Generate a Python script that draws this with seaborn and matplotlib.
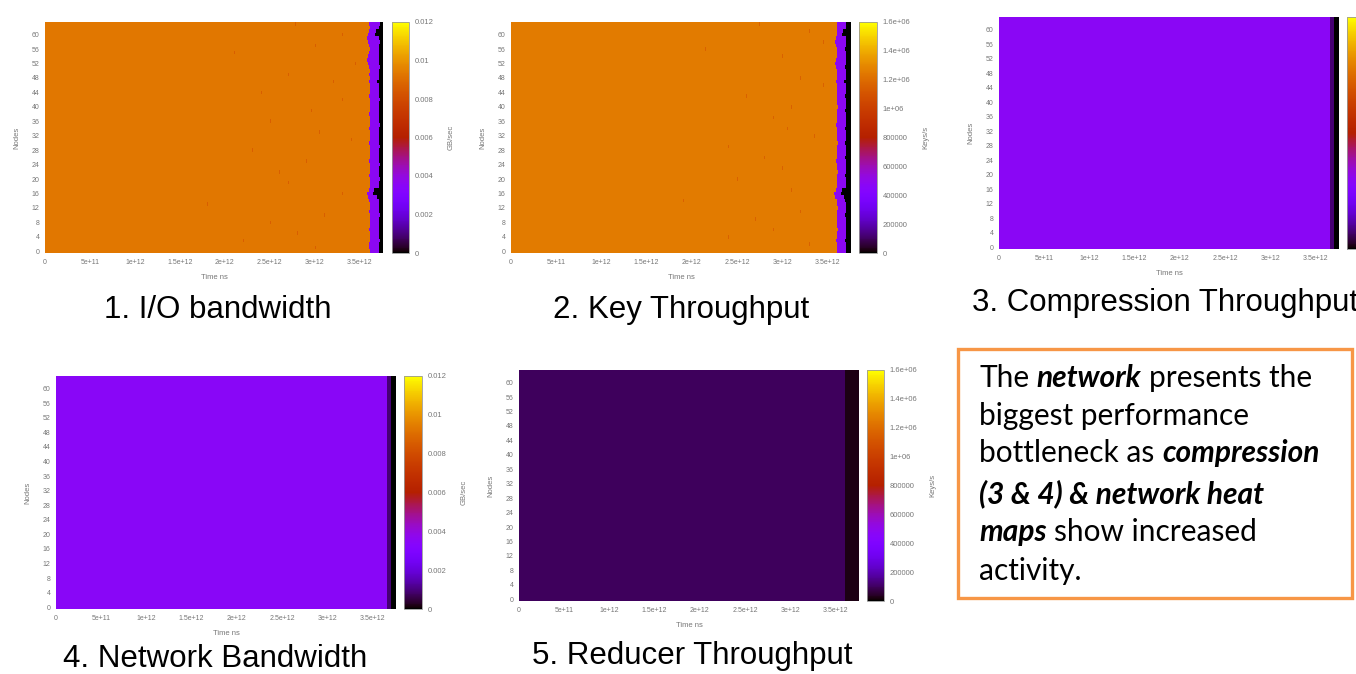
import numpy as np
import pandas as pd
import matplotlib
matplotlib.use("Agg")
import matplotlib.pyplot as plt
import seaborn as sns
from matplotlib.patches import Rectangle

sns.set_theme(style="white")
plt.rcParams['font.family'] = ['Liberation Sans', 'DejaVu Sans']

# ----------------------------------------------------------------------
# data (gnuplot heat maps, 64 nodes x time)
# ----------------------------------------------------------------------
n_nodes = 64
bin_ns = 1e10            # one heatmap column = 1e10 ns
n_bins = 376             # runs end at ~3.76e12 ns

x_tick_ns = [0, 5e11, 1e12, 1.5e12, 2e12, 2.5e12, 3e12, 3.5e12]
x_tick_labels = ["0", "5e+11", "1e+12", "1.5e+12", "2e+12", "2.5e+12", "3e+12", "3.5e+12"]
y_ticks = list(range(0, 61, 4))

gb_ticks = [0, 0.002, 0.004, 0.006, 0.008, 0.01, 0.012]
gb_tick_labels = ["0", "0.002", "0.004", "0.006", "0.008", "0.01", "0.012"]
keys_ticks = [0, 2e5, 4e5, 6e5, 8e5, 1e6, 1.2e6, 1.4e6, 1.6e6]
keys_tick_labels = ["0", "200000", "400000", "600000", "800000", "1e+06", "1.2e+06", "1.4e+06", "1.6e+06"]

# 1. I/O bandwidth (GB/sec)
io_steady = 0.0093
io_tail = 0.0036
io_speck = 0.0086
io_purple_from = [361, 360, 360, 361, 362, 361, 360, 361, 361, 362, 361, 360, 361, 362, 360, 359,
                  358, 360, 361, 362, 361, 360, 361, 362, 361, 360, 361, 361, 362, 361, 360, 361,
                  361, 362, 360, 361, 362, 361, 360, 361, 361, 362, 361, 360, 361, 362, 361, 360,
                  361, 360, 361, 360, 359, 358, 359, 360, 361, 360, 359, 358, 359, 360, 361, 360]
io_black_from = [372, 371, 372, 373, 372, 371, 372, 372, 371, 372, 373, 372, 371, 372, 371, 369,
                 365, 366, 371, 372, 373, 372, 371, 372, 373, 372, 371, 372, 372, 373, 372, 371,
                 372, 371, 372, 373, 372, 371, 372, 372, 371, 372, 373, 372, 371, 372, 372, 369,
                 372, 371, 372, 373, 372, 371, 372, 372, 371, 372, 373, 372, 367, 368, 372, 373]
io_speck_nodes = [63, 60, 57, 55, 52, 49, 47, 44, 42, 39, 36, 33, 31, 28, 25, 22, 19, 16, 13, 10, 8, 5, 3, 1]
io_speck_cols = [278, 330, 300, 210, 345, 270, 320, 240, 330, 296, 250, 305, 340, 230, 290, 260,
                 270, 330, 180, 310, 250, 280, 220, 300]

# 2. Key throughput (Keys/s)
key_steady = 1.25e6
key_tail = 4.8e5
key_speck = 1.16e6
key_purple_from = [360, 361, 360, 359, 360, 361, 362, 361, 360, 361, 360, 361, 362, 361, 360, 358,
                   357, 359, 360, 361, 360, 361, 362, 361, 360, 359, 360, 361, 360, 361, 362, 361,
                   360, 361, 360, 359, 360, 361, 360, 361, 362, 361, 360, 361, 360, 361, 360, 359,
                   360, 361, 360, 359, 358, 359, 360, 361, 360, 359, 358, 359, 360, 361, 360, 361]
key_black_from = [370, 371, 370, 369, 370, 371, 370, 370, 371, 370, 369, 370, 371, 370, 369, 368,
                  365, 366, 370, 371, 370, 369, 370, 371, 370, 370, 369, 370, 371, 370, 369, 370,
                  371, 370, 369, 370, 371, 370, 370, 369, 370, 371, 370, 369, 370, 371, 370, 368,
                  370, 371, 370, 369, 370, 371, 370, 370, 369, 370, 371, 370, 366, 367, 370, 371]
key_speck_nodes = [63, 61, 58, 56, 54, 51, 48, 46, 43, 40, 37, 34, 32, 29, 26, 23, 20, 17, 14, 11, 9, 6, 4, 2]
key_speck_cols = [274, 330, 345, 215, 300, 255, 320, 345, 260, 310, 290, 305, 335, 240, 280, 300,
                  250, 310, 190, 320, 270, 290, 240, 330]

# 3. Compression throughput, 4. Network bandwidth, 5. Reducer throughput
comp_steady = 4.7e5
comp_tail = 1.2e5
comp_dim_from = 366
comp_dark_from = 370
net_steady = 0.0035
net_tail = 0.0009
net_dim_from = 366
net_dark_from = 370
red_steady = 9.6e4
red_tail = 2.0e4
red_dark_from = 360


def build(steady, purple_from, black_from, tail=0.0, specks=((), ()), speck_val=None):
    purple_from = np.broadcast_to(purple_from, n_nodes)
    black_from = np.broadcast_to(black_from, n_nodes)
    m = np.zeros((n_nodes, n_bins))
    for node in range(n_nodes):
        m[node, :purple_from[node]] = steady
        m[node, purple_from[node]:black_from[node]] = tail
    for node, col in zip(*specks):
        m[node, col] = speck_val
    return pd.DataFrame(m, index=range(n_nodes), columns=np.arange(n_bins) * bin_ns)


panels = [
    # data, vmax, cbar ticks, cbar labels, cbar title, ax box px, cax box px, label pad, title, title pos
    (build(io_steady, io_purple_from, io_black_from, io_tail, (io_speck_nodes, io_speck_cols), io_speck),
     0.012, gb_ticks, gb_tick_labels, "GB/sec", (45, 22, 383, 253), (392, 409), 10,
     "1. I/O bandwidth", (218, 310, "center")),
    (build(key_steady, key_purple_from, key_black_from, key_tail, (key_speck_nodes, key_speck_cols), key_speck),
     1.6e6, keys_ticks, keys_tick_labels, "Keys/s", (511, 22, 851, 253), (859, 877), 9,
     "2. Key Throughput", (681, 310, "center")),
    (build(comp_steady, comp_dim_from, comp_dark_from, comp_tail),
     1.6e6, keys_ticks, None, "", (999, 17, 1339, 249), (1347, 1365), 9,
     "3. Compression Throughput", (972, 303, "left")),
    (build(net_steady, net_dim_from, net_dark_from, net_tail),
     0.012, gb_ticks, gb_tick_labels, "GB/sec", (56, 376, 396, 609), (404, 422), 10,
     "4. Network Bandwidth", (215, 659, "center")),
    (build(red_steady, red_dark_from, n_bins, red_tail),
     1.6e6, keys_ticks, keys_tick_labels, "Keys/s", (519, 370, 859, 601), (867, 884), 9,
     "5. Reducer Throughput", (692, 656, "center")),
]

W, H = 1356, 674
fig = plt.figure(figsize=(W / 100, H / 100), dpi=100)
tick_col = "#777777"


def fig_box(x0, y0, x1, y1):
    return [x0 / W, 1 - y1 / H, (x1 - x0) / W, (y1 - y0) / H]


for data, vmax, cticks, clabels, ctitle, abox, cx, cpad, title, tpos in panels:
    ax = fig.add_axes(fig_box(*abox))
    cax = fig.add_axes(fig_box(cx[0], abox[1], cx[1], abox[3]))
    sns.heatmap(data, ax=ax, cbar_ax=cax, cmap="gnuplot", vmin=0, vmax=vmax,
                xticklabels=False, yticklabels=False, rasterized=True,
                cbar_kws={"ticks": cticks})
    ax.invert_yaxis()
    ax.set_xticks(np.array(x_tick_ns) / bin_ns)
    ax.set_xticklabels(x_tick_labels, rotation=0)
    ax.set_yticks(np.array(y_ticks) + 0.5)
    ax.set_yticklabels([str(v) for v in y_ticks], rotation=0)
    ax.tick_params(axis="both", labelsize=5, colors=tick_col, length=0, pad=4)
    ax.set_xlabel("Time ns", fontsize=5.5, color=tick_col, labelpad=6)
    ax.set_ylabel("Nodes", fontsize=5.5, color=tick_col, labelpad=8)

    if clabels is None:
        cax.set_yticklabels([])
    else:
        cax.set_yticklabels(clabels)
    cax.tick_params(labelsize=5.5, colors=tick_col, length=0, pad=4)
    cax.set_ylabel(ctitle, fontsize=5.5, color=tick_col, labelpad=cpad)
    cbar = ax.collections[0].colorbar
    cbar.outline.set_linewidth(0.6)
    cbar.outline.set_edgecolor("#999999")

    fig.text(tpos[0] / W, 1 - tpos[1] / H, title, fontsize=22.5, ha=tpos[2], va="center", color="black")

# ----------------------------------------------------------------------
# annotation box
# ----------------------------------------------------------------------
fig.patches.append(Rectangle((958 / W, 1 - 598 / H), 394 / W, 249 / H, transform=fig.transFigure,
                             facecolor="white", edgecolor="#F79646", linewidth=2.4, zorder=5))

note_lines = [
    [("The ", False), ("network", True), (" presents the", False)],
    [("biggest performance", False)],
    [("bottleneck as ", False), ("compression", True)],
    [("(3 & 4) & network heat", True)],
    [("maps", True), (" show increased", False)],
    [("activity.", False)],
]
note_baselines = [387, 425, 462, 503, 541, 580]
note_size = 21.5
note_font = "Lato"

renderer = fig.canvas.get_renderer()


def text_width(s, bold):
    kw = dict(fontweight="bold", fontstyle="italic") if bold else {}
    t = fig.text(0, 0, s, fontsize=note_size, family=note_font, **kw)
    w = t.get_window_extent(renderer).width
    t.remove()
    return w


space_w = text_width("a a", False) - text_width("aa", False)

for parts, base in zip(note_lines, note_baselines):
    x = 979
    for s, bold in parts:
        x += (len(s) - len(s.lstrip(" "))) * space_w
        core = s.strip(" ")
        kw = dict(fontweight="bold", fontstyle="italic") if bold else {}
        t = fig.text(x / W, 1 - base / H, core, fontsize=note_size, family=note_font,
                     va="baseline", ha="left", zorder=6, color="black", **kw)
        x += t.get_window_extent(renderer).width
        x += (len(s) - len(s.rstrip(" "))) * space_w

fig.savefig("out.png", dpi=100)
